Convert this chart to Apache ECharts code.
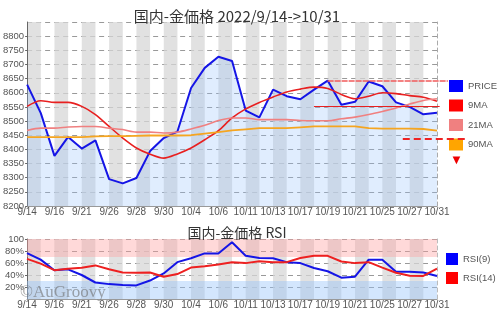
<!DOCTYPE html>
<html>
<head>
<meta charset="utf-8">
<script src="https://cdn.jsdelivr.net/npm/echarts@6/dist/echarts.min.js"></script>
<style>html,body{margin:0;padding:0;background:#fff}#c{width:500px;height:310px}</style>
</head>
<body>
<div id="c"></div>
<script>
const categories = ['9/14','9/15','9/16','9/20','9/21','9/22','9/26','9/27','9/28','9/29','9/30','10/3','10/4','10/5','10/6','10/7','10/11','10/12','10/13','10/14','10/17','10/18','10/19','10/20','10/21','10/24','10/25','10/26','10/27','10/28','10/31'];
const price = [8629,8528,8377,8444,8403,8432,8295,8280,8299,8394,8440,8463,8617,8688,8727,8712,8537,8513,8611,8588,8577,8611,8643,8558,8568,8640,8623,8566,8550,8524,8529];
const ma9 = [8552,8572,8566,8566,8552,8523,8481,8440,8405,8383,8369,8384,8405,8434,8466,8511,8543,8566,8585,8603,8613,8620,8615,8594,8579,8588,8600,8597,8590,8584,8570];
const ma21 = [8467,8475,8475,8479,8481,8481,8475,8470,8461,8461,8458,8461,8472,8485,8502,8511,8511,8505,8505,8505,8502,8501,8501,8508,8514,8523,8534,8546,8560,8573,8579];
const ma90 = [8443,8443,8443,8443,8443,8446,8447,8447,8448,8449,8449,8449,8450,8456,8461,8467,8471,8475,8475,8475,8478,8481,8481,8481,8481,8475,8473,8473,8473,8472,8466];
const rsi9 = [76.5,65.6,48,49.5,40,27.5,24.8,23.2,22.7,30.8,42.6,61.4,67.9,76,76,94.7,72,68.4,68,61.4,59.8,51.7,46.3,35.6,37.2,65.6,65.6,45.3,45.3,44.2,38.2];
const rsi14 = [66.8,59,48,50.6,52,56,49.5,44.2,43.7,44.2,37.2,41.5,52.3,54.4,57.6,61.4,59.8,63,61.4,61.4,68.4,72,72,62.5,59.8,61.4,52.3,43.7,38.9,38.4,50.6];
const priceTicks = [8200, 8850, 50];
const rsiTicks = [0, 100, 20];
// reference levels: [startIndex, endIndex, value]
const highLine = [22, 30.8, 8641];
const maLine = [21, 30.2, 8552];
const lowLine = [27.5, 32.05, 8438];

const chart = echarts.init(document.getElementById('c'));
const txt = '#555';
const font = 'Liberation Sans, Arial, sans-serif';
const stripe = {show: true, interval: 0, areaStyle: {color: ['rgba(215,215,215,0.75)', 'rgba(255,255,255,0)']}};
const xLab = {interval: 1, fontSize: 10, color: txt, margin: 1, fontFamily: font};

chart.setOption({
  animation: false,
  backgroundColor: '#fff',
  title: [
    {text: '国内-金価格 2022/9/14->10/31', left: 232, top: 4, textAlign: 'center',
     textStyle: {fontSize: 15, fontWeight: 'normal', color: '#333', fontFamily: 'Noto Sans CJK JP, sans-serif'}},
    {text: '国内-金価格 RSI', left: 232, top: 221, textAlign: 'center',
     textStyle: {fontSize: 14, fontWeight: 'normal', color: '#333', fontFamily: 'Noto Sans CJK JP, sans-serif'}}
  ],
  legend: [
    {data: ['PRICE','9MA','21MA','90MA'], orient: 'vertical', left: 449, top: 80, icon: 'rect', padding: 0,
     itemWidth: 14, itemHeight: 12, itemGap: 7.5, selectedMode: false,
     textStyle: {fontSize: 9.5, color: txt, fontFamily: font}},
    {data: ['RSI(9)','RSI(14)'], orient: 'vertical', left: 446, top: 253, icon: 'rect', padding: 0,
     itemWidth: 12, itemHeight: 12, itemGap: 7, selectedMode: false,
     textStyle: {fontSize: 9.5, color: txt, fontFamily: font}}
  ],
  graphic: [
    {type: 'text', left: 450, top: 154, style: {text: '▼', fill: '#ee0000', fontSize: 13}},
    {type: 'text', left: 20, top: 284, z: 100, style: {text: '©AuGroovy', fill: 'rgba(110,110,110,0.6)', fontSize: 17, fontFamily: 'Liberation Serif, DejaVu Serif, serif'}}
  ],
  grid: [
    {left: 27, right: 63, top: 22, height: 184},
    {left: 27, right: 63, top: 239, height: 61},
    {left: 27, width: 440, top: 22, height: 184}
  ],
  xAxis: [
    {type: 'category', gridIndex: 0, data: categories, boundaryGap: false,
     axisLine: {lineStyle: {color: '#999'}}, axisTick: {show: false},
     axisLabel: xLab, splitArea: stripe, splitLine: {show: false}},
    {type: 'category', gridIndex: 1, data: categories, boundaryGap: false,
     axisLine: {lineStyle: {color: '#999'}}, axisTick: {show: false},
     axisLabel: xLab, splitArea: stripe, splitLine: {show: false}},
    {type: 'value', gridIndex: 2, min: 0, max: 32.2, show: false}
  ],
  yAxis: [
    {type: 'value', gridIndex: 0, min: priceTicks[0], max: priceTicks[1], interval: priceTicks[2],
     axisLine: {show: true, lineStyle: {color: '#666'}}, axisTick: {show: true, length: 2, lineStyle: {color: '#666'}},
     axisLabel: {fontSize: 9.5, color: txt, margin: 3, showMaxLabel: false, fontFamily: font, formatter: v => String(v)},
     splitLine: {lineStyle: {type: [5, 4], color: '#999'}}},
    {type: 'value', gridIndex: 1, min: rsiTicks[0], max: rsiTicks[1], interval: rsiTicks[2],
     axisLine: {show: true, lineStyle: {color: '#666'}}, axisTick: {show: true, length: 2, lineStyle: {color: '#666'}},
     axisLabel: {fontSize: 9.5, color: txt, margin: 3, showMinLabel: false, fontFamily: font,
       formatter: v => v === 100 ? '100' : v + '%'},
     splitLine: {lineStyle: {type: [5, 4], color: '#999'}}},
    {type: 'value', gridIndex: 2, min: priceTicks[0], max: priceTicks[1], show: false},
    {type: 'value', gridIndex: 0, position: 'right', min: priceTicks[0], max: priceTicks[1],
     axisLine: {show: true, lineStyle: {color: '#aaa', type: [4, 3]}}, axisTick: {show: false}, axisLabel: {show: false}, splitLine: {show: false}},
    {type: 'value', gridIndex: 1, position: 'right', min: rsiTicks[0], max: rsiTicks[1],
     axisLine: {show: true, lineStyle: {color: '#bbb', type: [4, 3]}}, axisTick: {show: false}, axisLabel: {show: false}, splitLine: {show: false}}
  ],
  series: [
    {name: 'PRICE', type: 'line', xAxisIndex: 0, yAxisIndex: 0, data: price, symbol: 'none', z: 3,
     lineStyle: {color: '#1515e6', width: 2}, itemStyle: {color: '#0000ff'},
     areaStyle: {color: 'rgba(150,195,250,0.42)', origin: 'start'}},
    {name: '9MA', type: 'line', xAxisIndex: 0, yAxisIndex: 0, data: ma9, symbol: 'none', smooth: 0.3, z: 4,
     lineStyle: {color: '#e82020', width: 1.6}, itemStyle: {color: '#ff0000'}},
    {name: '21MA', type: 'line', xAxisIndex: 0, yAxisIndex: 0, data: ma21, symbol: 'none', smooth: 0.3, z: 4,
     lineStyle: {color: '#f08080', width: 1.6}, itemStyle: {color: '#f08080'}},
    {name: '90MA', type: 'line', xAxisIndex: 0, yAxisIndex: 0, data: ma90, symbol: 'none', z: 4,
     lineStyle: {color: '#f5a520', width: 1.8}, itemStyle: {color: '#ffa500'}},
    {name: 'levels', type: 'line', xAxisIndex: 2, yAxisIndex: 2, data: [], symbol: 'none', z: 5,
     markLine: {silent: true, symbol: 'none', label: {show: false}, animation: false,
      data: [
        [{coord: [highLine[0], highLine[2]], lineStyle: {color: 'rgba(240,90,90,0.75)', width: 2, type: [6, 1]}}, {coord: [highLine[1], highLine[2]]}],
        [{coord: [maLine[0], maLine[2]], lineStyle: {color: '#e82020', width: 1.2, type: 'solid'}}, {coord: [maLine[1], maLine[2]]}],
        [{coord: [lowLine[0], lowLine[2]], lineStyle: {color: '#ee2222', width: 2, type: [7, 4]}}, {coord: [lowLine[1], lowLine[2]]}]
      ]}},
    {name: 'RSI(9)', type: 'line', xAxisIndex: 1, yAxisIndex: 1, data: rsi9, symbol: 'none', z: 4,
     lineStyle: {color: '#1515e6', width: 2}, itemStyle: {color: '#0000ff'},
     markArea: {silent: true, data: [
       [{yAxis: 70, itemStyle: {color: 'rgba(255,160,160,0.4)'}}, {yAxis: 100}],
       [{yAxis: 0, itemStyle: {color: 'rgba(150,195,250,0.42)'}}, {yAxis: 30}]
     ]}},
    {name: 'RSI(14)', type: 'line', xAxisIndex: 1, yAxisIndex: 1, data: rsi14, symbol: 'none', z: 4,
     lineStyle: {color: '#ee2020', width: 2}, itemStyle: {color: '#ff0000'}}
  ]
});
</script>
</body>
</html>
